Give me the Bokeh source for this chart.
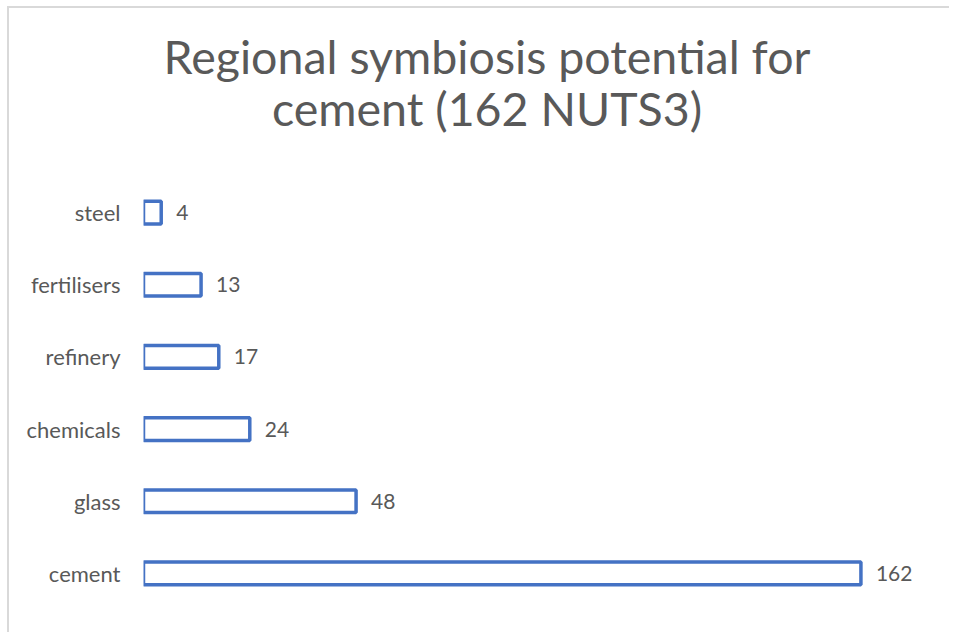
from bokeh.plotting import figure
from bokeh.models import Range1d, FactorRange, ColumnDataSource
from bokeh.layouts import column
from bokeh.embed import file_html
from bokeh.resources import INLINE
from bokeh.core.properties import value

categories = ["cement", "glass", "chemicals", "refinery", "fertilisers", "steel"]
counts = [162, 48, 24, 17, 13, 4]
title_lines = ["Regional symbiosis potential for", "cement (162 NUTS3)"]

FONT = "Lato"
GRAY = "#595959"
BLUE = "#4472C4"

W = 940
HT = 160
HB = 464

# --- title panel (its frame is aligned with the bar frame by the column layout;
#     x range expressed in page pixels of that frame: 144..919) ---
t = figure(width=W, height=HT, output_backend="svg", toolbar_location=None,
           x_range=Range1d(144, 919), y_range=Range1d(HT, 0),
           x_axis_location=None, y_axis_location=None, title_location=None,
           min_border=0, min_border_left=0, min_border_right=0,
           min_border_top=0, min_border_bottom=0)
t.outline_line_color = None
t.xgrid.visible = False
t.ygrid.visible = False
t.text(x=[487.5, 487.5], y=[47, 99], text=title_lines,
       text_align="center", text_baseline="alphabetic",
       text_font=value(FONT), text_font_size="46.5px", text_color=GRAY)

# --- bars ---
p = figure(width=W, height=HB, output_backend="svg", toolbar_location=None,
           y_range=FactorRange(factors=categories), x_range=Range1d(0, 175),
           title_location=None,
           min_border_left=134, min_border_top=8, min_border_bottom=23,
           min_border_right=31)
p.outline_line_color = None
p.xgrid.visible = False
p.ygrid.visible = False
p.xaxis.visible = False
p.y_range.range_padding = 0

ax = p.yaxis[0]
ax.axis_line_color = None
ax.major_tick_line_color = None
ax.minor_tick_line_color = None
ax.major_tick_out = 0
ax.major_tick_in = 0
ax.major_label_text_font = FONT
ax.major_label_text_font_size = "22px"
ax.major_label_text_color = GRAY
ax.major_label_standoff = 23

src = ColumnDataSource(dict(cat=categories, n=counts, lab=[str(c) for c in counts]))
p.hbar(y="cat", right="n", left=0, height=0.315, source=src,
       fill_color="white", line_color=BLUE, line_width=3.5)
p.text(x="n", y="cat", text="lab", source=src, x_offset=15,
       text_baseline="middle", text_align="left",
       text_font=value(FONT), text_font_size="21px", text_color=GRAY)

layout = column(t, p, spacing=0)
layout.styles = {"border-left": "2px solid #D9D9D9", "border-top": "2px solid #D9D9D9",
                 "margin-left": "7px", "margin-top": "6px"}

open("out.html", "w").write(file_html(layout, INLINE))
